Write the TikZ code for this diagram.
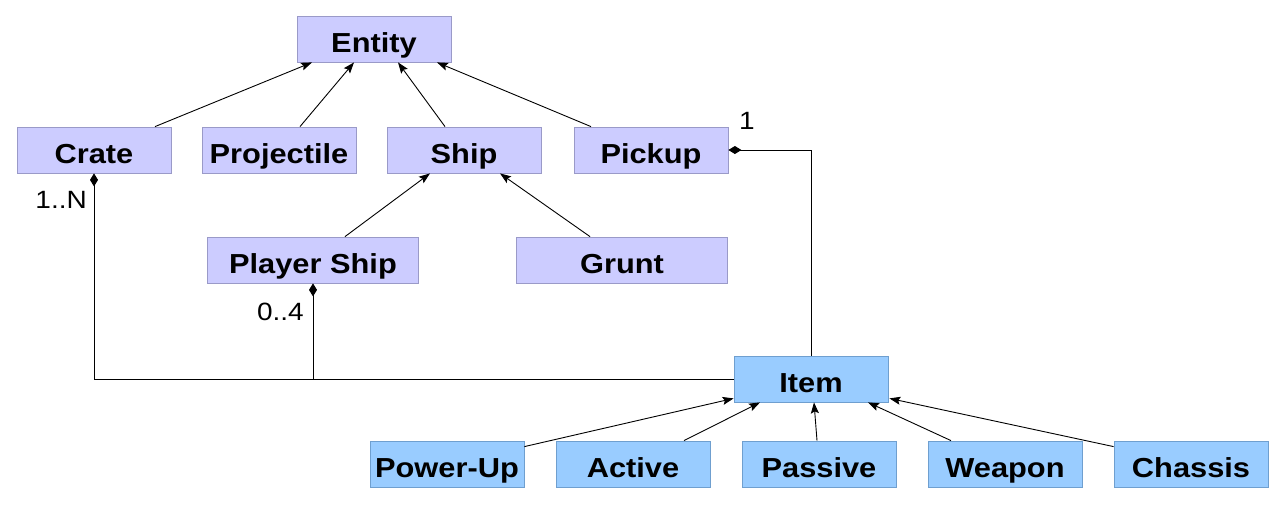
\documentclass[tikz,border=0pt]{standalone}
\usepackage{fontspec}
\setmainfont{Liberation Sans}[FakeStretch=1.12]
\usetikzlibrary{arrows.meta,calc}
\definecolor{lav}{HTML}{CCCCFF}
\definecolor{lavedge}{HTML}{9A9AC8}
\definecolor{sky}{HTML}{99CCFF}
\definecolor{skyedge}{HTML}{6F9FCF}
\begin{document}
\begin{tikzpicture}[x=1pt,y=-1pt,
  cls/.style={fill=lav, draw=lavedge, line width=0.8pt, minimum width=154pt, minimum height=46pt, inner sep=0pt, text height=30pt, text depth=4pt, font=\fontsize{27.5}{30}\selectfont\bfseries},
  itm/.style={cls, fill=sky, draw=skyedge},
  gen/.style={-{Stealth[length=11pt,width=8pt,inset=2pt]}, line width=0.9pt},
  comp/.style={{Diamond[length=13pt,width=8pt]}-, line width=1pt},
  mult/.style={font=\fontsize{25}{30}\selectfont, inner sep=0pt}]
\useasboundingbox (0,0) rectangle (1285,504);
\fill[white] (0,0) rectangle (1285,504);
% classes
\node[cls] (entity) at (374,39) {Entity};
\node[cls] (crate) at (94,150) {Crate};
\node[cls] (proj) at (279,150) {Projectile};
\node[cls] (ship) at (464,150) {Ship};
\node[cls] (pickup) at (651,150) {Pickup};
\node[cls, minimum width=211pt] (pship) at (313,260) {Player Ship};
\node[cls, minimum width=211pt] (grunt) at (622,260) {Grunt};
\node[itm] (item) at (811,379) {Item};
\node[itm] (power) at (447,464) {Power-Up};
\node[itm] (active) at (633,464) {Active};
\node[itm] (passive) at (819,464) {Passive};
\node[itm] (weapon) at (1005,464) {Weapon};
\node[itm] (chassis) at (1191,464) {Chassis};
% generalisations
\draw[gen] ($(crate.north)+(61,0)$) -- ($(entity.south)+(-62,0)$);
\draw[gen] ($(proj.north)+(21,0)$) -- ($(entity.south)+(-20,0)$);
\draw[gen] ($(ship.north)+(-19,0)$) -- ($(entity.south)+(24,0)$);
\draw[gen] ($(pickup.north)+(-60,0)$) -- ($(entity.south)+(63,0)$);
\draw[gen] ($(pship.north)+(32,0)$) -- ($(ship.south)+(-34,0)$);
\draw[gen] ($(grunt.north)+(-32,0)$) -- ($(ship.south)+(36,0)$);
\draw[gen] ($(power.north east)+(0,6)$) -- ($(item.south west)+(0,-4)$);
\draw[gen] ($(active.north)+(51,0)$) -- ($(item.south)+(-51,0)$);
\draw[gen] ($(passive.north)+(-2,0)$) -- ($(item.south)+(3,0)$);
\draw[gen] ($(weapon.north)+(-54,0)$) -- ($(item.south)+(57,0)$);
\draw[gen] ($(chassis.north west)+(0,6)$) -- ($(item.south east)+(1,-4)$);
% compositions
\draw[comp] (pickup.east) -- (pickup.east -| item.north) -- (item.north);
\draw[comp] (crate.south) |- (item.west);
\draw[comp] (pship.south) -- (pship.south |- item.west);
% multiplicities
\node[mult, anchor=base west] (m1) at (739,129) {1};
\node[mult, anchor=base east] (m2) at (87,208) {1..N};
\node[mult, anchor=base east] (m3) at (304,320) {0..4};
\end{tikzpicture}
\end{document}
